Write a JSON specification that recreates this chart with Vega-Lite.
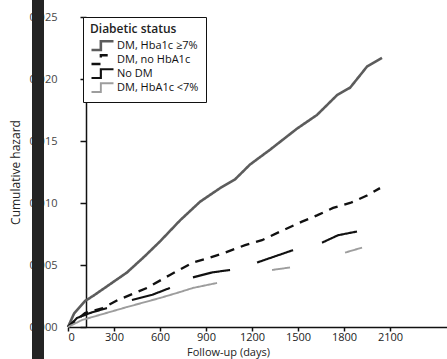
{
  "$schema": "https://vega.github.io/schema/vega-lite/v6.json",
  "width": 379,
  "height": 310,
  "autosize": {"type": "none"},
  "padding": {"left": 68, "top": 17, "right": 0, "bottom": 32},
  "background": "white",
  "config": {
    "view": {"stroke": null},
    "font": "Open Sans",
    "axis": {"domainColor": "#111", "tickColor": "#111", "labelColor": "#222", "titleColor": "#222", "grid": false, "zindex": 1, "domainWidth": 1.5, "tickWidth": 1.5}
  },
  "data": {
    "values": [
      {"series": "DM, Hba1c ≥7%", "seg": "a", "day": 0, "h": 0},
      {"series": "DM, Hba1c ≥7%", "seg": "a", "day": 40, "h": 0.0011},
      {"series": "DM, Hba1c ≥7%", "seg": "a", "day": 111, "h": 0.0021},
      {"series": "DM, Hba1c ≥7%", "seg": "a", "day": 163, "h": 0.0025},
      {"series": "DM, Hba1c ≥7%", "seg": "a", "day": 280, "h": 0.0035},
      {"series": "DM, Hba1c ≥7%", "seg": "a", "day": 385, "h": 0.0044},
      {"series": "DM, Hba1c ≥7%", "seg": "a", "day": 500, "h": 0.0057},
      {"series": "DM, Hba1c ≥7%", "seg": "a", "day": 600, "h": 0.0069},
      {"series": "DM, Hba1c ≥7%", "seg": "a", "day": 731, "h": 0.0086},
      {"series": "DM, Hba1c ≥7%", "seg": "a", "day": 861, "h": 0.0101},
      {"series": "DM, Hba1c ≥7%", "seg": "a", "day": 992, "h": 0.0112},
      {"series": "DM, Hba1c ≥7%", "seg": "a", "day": 1089, "h": 0.0119},
      {"series": "DM, Hba1c ≥7%", "seg": "a", "day": 1187, "h": 0.0131},
      {"series": "DM, Hba1c ≥7%", "seg": "a", "day": 1318, "h": 0.0143},
      {"series": "DM, Hba1c ≥7%", "seg": "a", "day": 1494, "h": 0.0160},
      {"series": "DM, Hba1c ≥7%", "seg": "a", "day": 1624, "h": 0.0171},
      {"series": "DM, Hba1c ≥7%", "seg": "a", "day": 1755, "h": 0.0187},
      {"series": "DM, Hba1c ≥7%", "seg": "a", "day": 1840, "h": 0.0193},
      {"series": "DM, Hba1c ≥7%", "seg": "a", "day": 1905, "h": 0.0203},
      {"series": "DM, Hba1c ≥7%", "seg": "a", "day": 1950, "h": 0.0210},
      {"series": "DM, Hba1c ≥7%", "seg": "a", "day": 2048, "h": 0.0217},

      {"series": "DM, no HbA1c", "seg": "a", "day": 0, "h": 0},
      {"series": "DM, no HbA1c", "seg": "a", "day": 111, "h": 0.00113},
      {"series": "DM, no HbA1c", "seg": "a", "day": 228, "h": 0.00153},
      {"series": "DM, no HbA1c", "seg": "a", "day": 326, "h": 0.00218},
      {"series": "DM, no HbA1c", "seg": "a", "day": 515, "h": 0.00315},
      {"series": "DM, no HbA1c", "seg": "a", "day": 665, "h": 0.0042},
      {"series": "DM, no HbA1c", "seg": "a", "day": 815, "h": 0.0052},
      {"series": "DM, no HbA1c", "seg": "a", "day": 926, "h": 0.0056},
      {"series": "DM, no HbA1c", "seg": "a", "day": 1024, "h": 0.0060},
      {"series": "DM, no HbA1c", "seg": "a", "day": 1155, "h": 0.0066},
      {"series": "DM, no HbA1c", "seg": "a", "day": 1265, "h": 0.0070},
      {"series": "DM, no HbA1c", "seg": "a", "day": 1402, "h": 0.0078},
      {"series": "DM, no HbA1c", "seg": "a", "day": 1526, "h": 0.0085},
      {"series": "DM, no HbA1c", "seg": "a", "day": 1624, "h": 0.0090},
      {"series": "DM, no HbA1c", "seg": "a", "day": 1729, "h": 0.0096},
      {"series": "DM, no HbA1c", "seg": "a", "day": 1840, "h": 0.0100},
      {"series": "DM, no HbA1c", "seg": "a", "day": 1950, "h": 0.0106},
      {"series": "DM, no HbA1c", "seg": "a", "day": 2035, "h": 0.0112},

      {"series": "No DM", "seg": "a", "day": 0, "h": 0},
      {"series": "No DM", "seg": "a", "day": 59, "h": 0.00073},
      {"series": "No DM", "seg": "a", "day": 144, "h": 0.00113},
      {"series": "No DM", "seg": "a", "day": 254, "h": 0.00153},
      {"series": "No DM", "seg": "b", "day": 417, "h": 0.00218},
      {"series": "No DM", "seg": "b", "day": 550, "h": 0.0026},
      {"series": "No DM", "seg": "b", "day": 665, "h": 0.00315},
      {"series": "No DM", "seg": "c", "day": 815, "h": 0.0040},
      {"series": "No DM", "seg": "c", "day": 939, "h": 0.0044},
      {"series": "No DM", "seg": "c", "day": 1057, "h": 0.0046},
      {"series": "No DM", "seg": "d", "day": 1233, "h": 0.0052},
      {"series": "No DM", "seg": "d", "day": 1468, "h": 0.0062},
      {"series": "No DM", "seg": "e", "day": 1657, "h": 0.0068},
      {"series": "No DM", "seg": "e", "day": 1761, "h": 0.0074},
      {"series": "No DM", "seg": "e", "day": 1885, "h": 0.0077},

      {"series": "DM, HbA1c <7%", "seg": "a", "day": 0, "h": 0},
      {"series": "DM, HbA1c <7%", "seg": "a", "day": 91, "h": 0.00056},
      {"series": "DM, HbA1c <7%", "seg": "a", "day": 385, "h": 0.00161},
      {"series": "DM, HbA1c <7%", "seg": "a", "day": 600, "h": 0.00234},
      {"series": "DM, HbA1c <7%", "seg": "a", "day": 731, "h": 0.00282},
      {"series": "DM, HbA1c <7%", "seg": "a", "day": 815, "h": 0.00315},
      {"series": "DM, HbA1c <7%", "seg": "a", "day": 972, "h": 0.00355},
      {"series": "DM, HbA1c <7%", "seg": "b", "day": 1331, "h": 0.0046},
      {"series": "DM, HbA1c <7%", "seg": "b", "day": 1448, "h": 0.0048},
      {"series": "DM, HbA1c <7%", "seg": "c", "day": 1807, "h": 0.0060},
      {"series": "DM, HbA1c <7%", "seg": "c", "day": 1918, "h": 0.0064}
    ]
  },
  "layer": [
    {
      "mark": {"type": "rule", "color": "#242424", "strokeWidth": 11},
      "encoding": {
        "x": {"datum": -196, "type": "quantitative"},
        "y": {"datum": -0.0027, "type": "quantitative"},
        "y2": {"datum": 0.0266}
      }
    },
    {
      "mark": {"type": "line", "strokeCap": "butt"},
      "encoding": {
        "x": {
          "field": "day", "type": "quantitative",
          "scale": {"domain": [0, 2472], "nice": false, "zero": false},
          "axis": {
            "values": [0, 300, 600, 900, 1200, 1500, 1800, 2100],
            "format": "d",
            "title": "Follow-up (days)",
            "tickSize": 4, "labelPadding": 0, "labelFontSize": 11,
            "titleFontSize": 11, "titleFontWeight": "normal",
            "titleX": 160, "titleY": 25.5, "titleAlign": "center", "titleBaseline": "middle"
          }
        },
        "y": {
          "field": "h", "type": "quantitative",
          "scale": {"domain": [0, 0.025], "nice": false},
          "axis": {
            "values": [0, 0.005, 0.01, 0.015, 0.02, 0.025],
            "format": ".3f",
            "offset": -18,
            "title": "Cumulative hazard",
            "tickSize": 6, "labelPadding": 23, "labelFontSize": 11,
            "labelColor": "#454545",
            "titleFontSize": 12, "titleFontWeight": "normal",
            "titleX": -71, "titleY": 155, "titleAngle": -90, "titleAlign": "center", "titleBaseline": "middle"
          }
        },
        "detail": {"field": "seg"},
        "color": {
          "field": "series", "type": "nominal",
          "scale": {"domain": ["DM, Hba1c ≥7%", "DM, no HbA1c", "No DM", "DM, HbA1c <7%"], "range": ["#5c5c5c", "#111111", "#111111", "#9d9d9d"]},
          "legend": {
            "title": "Diabetic status",
            "orient": "none", "legendX": 15, "legendY": 0,
            "strokeColor": "#111", "fillColor": "white", "padding": 7,
            "titleFontSize": 12, "titleFontWeight": 600, "titleColor": "#222", "titlePadding": 3,
            "labelFontSize": 11, "labelColor": "#111", "labelOffset": 2,
            "symbolType": "M-1,0.4H-0.15V-0.4H1", "symbolSize": 484, "symbolFillColor": "transparent",
            "clipHeight": 13.3, "rowPadding": 0
          }
        },
        "strokeDash": {
          "field": "series", "type": "nominal",
          "scale": {"domain": ["DM, Hba1c ≥7%", "DM, no HbA1c", "No DM", "DM, HbA1c <7%"], "range": [[1, 0], [9, 7], [1, 0], [1, 0]]}
        },
        "strokeWidth": {
          "field": "series", "type": "nominal",
          "scale": {"domain": ["DM, Hba1c ≥7%", "DM, no HbA1c", "No DM", "DM, HbA1c <7%"], "range": [2.6, 1.9, 1.7, 2.6]}
        }
      }
    }
  ]
}
